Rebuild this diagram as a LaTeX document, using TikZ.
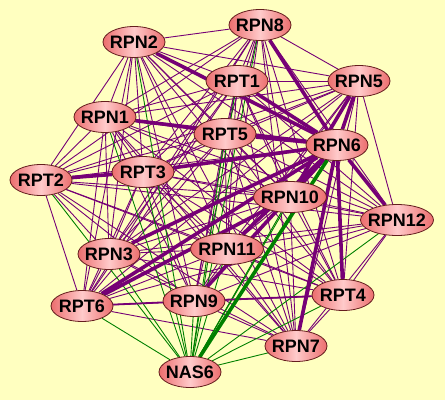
\documentclass[tikz,border=0pt]{standalone}
\usepackage{fontspec}
\setmainfont{Liberation Sans}
\usetikzlibrary{shapes.geometric,backgrounds}
\definecolor{bgyellow}{RGB}{255,255,192}
\definecolor{linkpurple}{RGB}{118,0,118}
\definecolor{linkgreen}{RGB}{0,128,0}
\definecolor{protside}{RGB}{236,110,110}
\definecolor{protmid}{RGB}{255,202,202}
\definecolor{protline}{RGB}{100,30,30}
\tikzset{
  prot/.style={ellipse, draw=protline, line width=0.8pt,
    left color=protside, right color=protside, middle color=protmid,
    inner xsep=-15pt, inner ysep=-5pt, minimum width=62pt, minimum height=31pt,
    text height=13pt, text depth=0pt, font=\fontsize{18}{18}\selectfont\bfseries},
  protw/.style={prot, minimum width=73pt},
  thinlink/.style={linkpurple, line width=0.9pt},
  midlink/.style={linkpurple, line width=1.8pt},
  thicklink/.style={linkpurple, line width=3.6pt},
  greenlink/.style={linkgreen, line width=0.9pt},
  greenthick/.style={linkgreen, line width=3.6pt}
}
\begin{document}
\begin{tikzpicture}[x=1pt,y=-1pt]
    \useasboundingbox (0,0) rectangle (445,400);
    % proteins
    \node[prot] (RPN8) at (260,25) {RPN8};
    \node[prot] (RPN2) at (134,42) {RPN2};
    \node[prot] (RPT1) at (237,81) {RPT1};
    \node[prot] (RPN5) at (359,81) {RPN5};
    \node[prot] (RPN1) at (105,117) {RPN1};
    \node[prot] (RPT5) at (225,134) {RPT5};
    \node[prot] (RPN6) at (337,145) {RPN6};
    \node[prot] (RPT3) at (143,172) {RPT3};
    \node[prot] (RPT2) at (41,180) {RPT2};
    \node[protw] (RPN10) at (290,197) {RPN10};
    \node[protw] (RPN12) at (397,220) {RPN12};
    \node[prot] (RPN3) at (109,254) {RPN3};
    \node[protw] (RPN11) at (227,249) {RPN11};
    \node[prot] (RPT6) at (82,306) {RPT6};
    \node[prot] (RPN9) at (194,301) {RPN9};
    \node[prot] (RPT4) at (343,295) {RPT4};
    \node[prot] (RPN7) at (296,346) {RPN7};
    \node[prot] (NAS6) at (190,372) {NAS6};
    % interactions
    \begin{scope}[on background layer]
    \fill[bgyellow] (0,0) rectangle (445,400);
    \def\protlist{RPN8,RPN2,RPT1,RPN5,RPN1,RPT5,RPN6,RPT3,RPT2,RPN10,RPN12,RPN3,RPN11,RPT6,RPN9,RPT4,RPN7}
    \foreach \a [count=\i] in \protlist {
        \foreach \b [count=\j] in \protlist {
            \ifnum\j>\i \draw[thinlink] (\a) -- (\b); \fi
        }
    }
    \foreach \b in {RPT2,RPT6,RPN3,RPN1,RPN2,RPT3,RPN9,RPN11,RPT5,RPT1,RPN8,RPN10,RPN5,RPN12,RPT4,RPN7}
        \draw[greenlink] (NAS6) -- (\b);
    \draw[midlink] (RPT6) -- (RPN9);
    \draw[midlink] (RPN9) -- (RPT4);
    \foreach \b in {RPN8,RPN2,RPT1,RPN5,RPN1,RPT5,RPT3,RPN10,RPN11,RPN3,RPT6,RPN9,RPN7,RPT4,RPN12}
        \draw[thicklink] (RPN6) -- (\b);
    \draw[thicklink] (RPT2) -- (RPT3);
    \draw[thicklink] (RPT6) -- (RPN10);
    \draw[thicklink] (RPN5) -- (RPN10);
    \draw[greenthick] (RPN6) -- (NAS6);
    \end{scope}
\end{tikzpicture}
\end{document}
